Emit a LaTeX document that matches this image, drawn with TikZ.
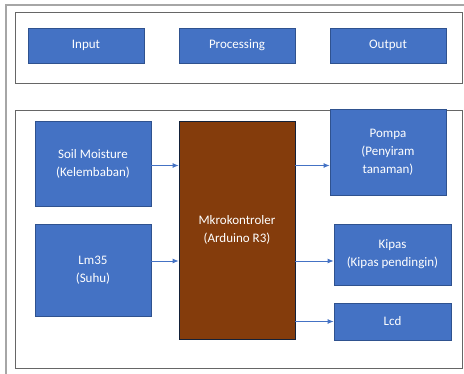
\documentclass[tikz,border=0pt]{standalone}
\usepackage{fontspec}
\setmainfont{Carlito}
\usepackage{xcolor}
\usetikzlibrary{calc,arrows.meta,positioning}
\definecolor{boxblue}{HTML}{4472C4}
\definecolor{boxedge}{HTML}{2F528F}
\definecolor{mcubrown}{HTML}{843C0C}

\begin{document}
\begin{tikzpicture}[x=1pt,y=-1pt,
    block/.style={draw=boxedge,fill=boxblue,text=white,align=center,font=\fontsize{13}{18}\selectfont,line width=0.8pt,inner sep=2pt},
    mcublock/.style={block,draw=boxedge!40!black,fill=mcubrown},
    frame/.style={draw=black!60,line width=0.7pt},
    arr/.style={-{Latex[length=6pt,width=5pt]},draw=boxblue,line width=0.8pt}]
   \useasboundingbox (0,0) rectangle (464,374);
   \draw[draw=black!35,line width=1.6pt] (6,374) -- (6,5) -- (464,5);
   \draw[frame] (15,12) rectangle (462,83);
   \draw[frame] (15,110) rectangle (462,368);
   % top row
   \node[block,minimum width=116pt,minimum height=35pt] (input) at (86,45.5) {Input};
   \node[block,minimum width=116pt,minimum height=35pt] (proc)  at (237,45.5) {Processing};
   \node[block,minimum width=116pt,minimum height=35pt] (output) at (388,45.5) {Output};
   % sensors
   \node[block,minimum width=116pt,minimum height=85pt] (soil) at (93,163.5) {Soil Moisture\\(Kelembaban)};
   \node[block,minimum width=116pt,minimum height=92pt] (lm) at (93,270) {Lm35\\(Suhu)};
   % controller
   \node[mcublock,minimum width=116pt,minimum height=218pt] (mcu) at (237,230) {Mkrokontroler\\(Arduino R3)};
   % actuators
   \node[block,minimum width=116pt,minimum height=86pt] (pompa) at (388,152) {Pompa\\(Penyiram\\tanaman)};
   \node[block,minimum width=117pt,minimum height=61pt] (kipas) at (392.5,254.5) {Kipas\\(Kipas pendingin)};
   \node[block,minimum width=117pt,minimum height=37pt] (lcd) at (392.5,321.5) {Lcd};
   \draw[arr] ([yshift=-2pt]soil.east) -- ([yshift=-2pt]soil.east -| mcu.west);
   \draw[arr] ([yshift=9pt]lm.east) -- ([yshift=9pt]lm.east -| mcu.west);
   \draw[arr] ([yshift=-2pt]soil.east -| mcu.east) -- ([yshift=-2pt]soil.east -| pompa.west);
   \draw[arr] ([yshift=9pt]lm.east -| mcu.east) -- ([yshift=9pt]lm.east -| kipas.west);
   \draw[arr] (lcd.west -| mcu.east) -- (lcd.west);
  \end{tikzpicture}
\end{document}
